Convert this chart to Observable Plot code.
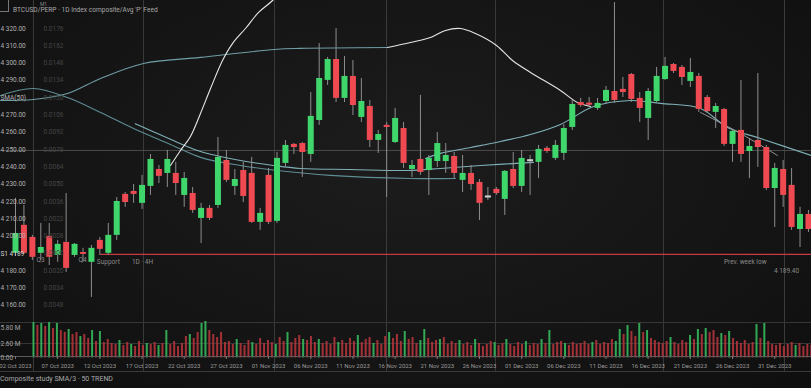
<!DOCTYPE html>
<html><head><meta charset="utf-8">
<script src="https://cdn.jsdelivr.net/npm/d3@7"></script>
<script src="https://cdn.jsdelivr.net/npm/@observablehq/plot@0.6"></script>
<style>
html,body{margin:0;padding:0;background:#0d0d0d;}
#wrap{position:relative;width:811px;height:388px;overflow:hidden;
 background:radial-gradient(ellipse 75% 85% at 50% 42%, #1c1c1c 0%, #151515 55%, #0e0e0e 100%);
 font-family:Roboto,"DejaVu Sans",sans-serif;}
#price{position:absolute;left:0;top:0;}
#vol{position:absolute;left:0;top:312px;}
.t{position:absolute;color:#a9a9a9;font-size:7px;white-space:nowrap;line-height:8px;}
#box{position:absolute;left:0;top:0;width:8px;height:11px;border:1px solid #777;border-left:none;border-top:none;}
#sep{position:absolute;left:0;top:371px;width:811px;height:1px;background:#3a3a3a;}
</style></head><body>
<div id="wrap">
  <div id="price"></div>
  <div id="vol"></div>
  <div id="box"></div>
  <div class="t" style="left:40px;top:0px;font-size:5px;color:#888">M1</div>
  <div class="t" id="title" style="left:13px;top:6px;font-size:6.6px;"></div>
  <div id="sep"></div>
  <div class="t" id="caption" style="left:0px;top:375px;"></div>
</div>
<script>
const titleText = "BTCUSD/PERP · 1D  Index composite/Avg 'P' Feed";
const captionText = "Composite study SMA/3 · 50 TREND";

// ---- candles (one per day) ----
const opens = [4190.0,4206.2,4199.2,4190.0,4199.8,4188.8,4196.3,4188.8,4190.5,4184.8,
 4197.5,4190.0,4200.4,4224.1,4225.8,4218.9,4228.7,4238.5,4236.2,4236.2,
 4223.5,4224.6,4210.2,4216.0,4217.7,4243.7,4228.7,4237.9,4236.2,4207.9,
 4235.1,4208.5,4242.0,4253.0,4253.5,4247.2,4266.8,4290.0,4302.1,4279.6,
 4292.3,4268.6,4274.9,4255.3,4264.0,4254.1,4262.2,4238.5,4244.3,4237.9,
 4243.1,4243.1,4246.0,4232.2,4236.2,4231.0,4222.3,4227.0,4221.2,4238.5,
 4228.7,4243.7,4242.6,4250.7,4244.9,4247.8,4262.8,4277.2,4276.7,4273.8,
 4277.8,4283.6,4284.8,4293.4,4279.6,4268.0,4277.8,4290.5,4299.2,4297.5,
 4289.4,4292.3,4280.1,4271.5,4273.2,4253.0,4261.1,4248.9,4255.3,4251.2,
 4227.5,4238.5,4229.3,4203.8,4212.5];
const highs = [4221.8,4217.7,4200.4,4207.3,4207.3,4197.5,4224.6,4195.7,4192.9,4194.6,
 4199.2,4207.3,4222.3,4225.2,4229.8,4235.1,4247.2,4240.8,4249.5,4242.6,
 4236.8,4228.1,4218.9,4217.7,4257.0,4249.5,4238.5,4242.6,4245.5,4216.0,
 4239.1,4248.3,4255.3,4253.5,4254.1,4283.0,4311.3,4303.3,4320.0,4303.8,
 4301.5,4291.1,4278.4,4261.1,4265.7,4273.8,4265.7,4243.7,4281.3,4246.6,
 4259.9,4253.5,4248.3,4246.6,4240.8,4232.7,4228.1,4228.1,4237.9,4248.3,
 4249.5,4246.6,4252.4,4251.8,4255.3,4264.5,4278.4,4279.6,4280.1,4279.6,
 4286.5,4335.0,4291.7,4294.0,4283.0,4285.3,4297.5,4303.3,4299.8,4298.6,
 4302.7,4294.0,4281.3,4276.7,4273.8,4261.1,4290.0,4256.4,4294.0,4252.4,
 4242.0,4243.7,4239.1,4216.6,4214.8];
const lows = [4188.2,4189.4,4185.9,4185.9,4183.0,4184.8,4179.0,4187.7,4184.8,4164.5,
 4188.8,4188.8,4197.5,4216.6,4218.9,4215.4,4223.5,4230.4,4228.1,4223.5,
 4216.6,4213.1,4195.7,4209.0,4216.0,4231.0,4223.5,4219.4,4207.3,4203.3,
 4206.7,4207.3,4239.7,4247.2,4233.9,4242.6,4264.0,4287.1,4277.2,4277.2,
 4269.7,4265.7,4251.2,4247.8,4222.3,4253.5,4239.1,4233.9,4235.1,4223.5,
 4239.7,4236.2,4233.3,4225.2,4226.4,4209.0,4220.6,4223.5,4211.9,4227.5,
 4225.2,4223.5,4233.3,4247.8,4243.7,4243.7,4261.1,4274.4,4274.9,4272.6,
 4276.7,4276.7,4280.1,4277.2,4265.7,4255.3,4277.2,4290.0,4294.0,4287.1,
 4285.9,4271.5,4270.9,4262.2,4251.8,4242.6,4242.6,4233.3,4239.7,4226.4,
 4205.0,4216.6,4203.3,4193.4,4202.1];
const closes = [4201.5,4190.0,4187.7,4193.4,4187.7,4195.2,4181.3,4195.2,4189.4,4192.9,
 4192.3,4200.4,4220.0,4219.4,4224.1,4229.3,4244.3,4234.5,4244.3,4230.4,
 4233.3,4214.8,4216.0,4210.2,4245.5,4232.2,4232.7,4222.9,4207.9,4213.1,
 4207.9,4244.9,4252.4,4251.2,4248.3,4269.2,4291.1,4302.1,4279.6,4292.3,
 4275.5,4277.8,4255.3,4258.7,4262.8,4268.0,4242.0,4240.8,4236.8,4244.9,
 4253.5,4246.6,4236.2,4236.2,4229.8,4218.9,4222.9,4224.6,4237.4,4228.7,
 4244.9,4243.4,4250.1,4248.9,4252.4,4262.2,4276.1,4275.5,4275.8,4276.7,
 4284.2,4278.4,4283.0,4279.0,4273.8,4283.6,4292.3,4298.1,4295.2,4291.7,
 4294.6,4273.2,4272.0,4274.9,4253.0,4260.5,4247.2,4251.8,4251.2,4227.5,
 4239.1,4223.5,4205.0,4212.5,4203.8];

// ---- moving-average lines: [candle index, price] ----
const maLongTeal = [[-1.78,4278.4],[2.13,4279.0],[6.16,4282.4],[10.08,4291.1],[15.17,4299.8],[21.93,4303.3],[30.70,4307.9],[33.78,4308.5],[44.10,4309.0]];
const maLongWhite = [[44.10,4309.0],[46.82,4311.9],[49.19,4314.8],[50.97,4318.9],[52.75,4320.0],[54.53,4317.1],[57.02,4310.2],[58.92,4301.5],[61.05,4294.6],[64.60,4284.2],[66.62,4277.2],[68.16,4274.9]];
const maMidA = [[-1.78,4281.3],[2.13,4285.3],[6.16,4280.1],[10.08,4271.5],[13.99,4262.2],[18.37,4253.0],[21.93,4245.5],[26.67,4240.8],[31.06,4237.9],[37.34,4235.1],[46.82,4233.3],[52.16,4233.3]];
const maMidB = [[14.20,4265.0],[16.00,4261.1],[18.97,4254.7],[21.93,4248.9],[26.67,4243.7],[30.58,4240.8],[33.78,4239.1],[39.71,4238.5],[46.47,4237.9],[50.38,4239.1],[55.12,4240.8],[61.40,4242.6]];
const maFast = [[48.60,4244.9],[50.38,4247.8],[53.94,4251.2],[57.49,4254.7],[61.05,4258.7],[64.60,4264.5],[68.52,4274.9],[72.90,4278.4],[76.46,4276.7],[81.20,4273.8],[84.40,4262.8],[88.31,4256.4],[94.36,4246.6]];
const maShort = [[81.20,4271.5],[85.94,4259.3],[90.33,4246.6]];
const maSpike = [[18.37,4240.8],[19.56,4249.5],[20.74,4257.6],[21.93,4270.9],[23.12,4285.3],[24.54,4301.5],[25.72,4311.3],[27.26,4320.0],[28.81,4329.3],[30.47,4336.2],[31.89,4344.3]];

// ---- reference levels ----
const gridDays = [2.13,15.17,30.70,43.98,56.90,76.81,91.16];
const midLevel = 4249.5;
const supportLevel = 4189.4;
const supportFrom = 10.08;

// ---- y axis ticks (rows at 4280 and 4190 carry the SMA and S1 tags instead) ----
const yTickValues = [4320,4310,4300,4290,4270,4260,4250,4240,4230,4220,4210,4200,4180,4170,4160];
const yTickLabels = ["4 320.00","4 310.00","4 300.00","4 290.00","4 270.00","4 260.00","4 250.00","4 240.00","4 230.00","4 220.00","4 210.00","4 200.00","4 180.00","4 170.00","4 160.00"];
const yPctValues = [4320,4310,4300,4290,4280,4270,4260,4250,4240,4230,4220,4210,4200,4190,4180,4170,4160];
const yPctLabels = ["0.0176","0.0162","0.0148","0.0134","0.0120","0.0106","0.0092","0.0078","0.0064","0.0050","0.0036","0.0022","0.0008","0.0006","0.0020","0.0034","0.0048"];

// ---- x axis labels (every 5 days) ----
const xLabelDays = [0,5,10,15,20,25,30,35,40,45,50,55,60,65,70,75,80,85,90];
const xLabels = ["02 Oct 2023","07 Oct 2023","12 Oct 2023","17 Oct 2023","22 Oct 2023","27 Oct 2023","01 Nov 2023","06 Nov 2023","11 Nov 2023","16 Nov 2023","21 Nov 2023","26 Nov 2023","01 Dec 2023","06 Dec 2023","11 Dec 2023","16 Dec 2023","21 Dec 2023","26 Dec 2023","31 Dec 2023"];

// ---- volume (sub-period bars) ----
const volumes = [34,31,33,30,34,28,33,26,24,27, 22,24,20,22,18,26,15,25,14,17,
 13,12,16,11,14,12,10,15,11,13, 12,14,11,13,26,12,15,10,13,20,
 22,18,24,33,35,26,22,19,24,14, 15,12,17,13,11,16,14,12,18,13,
 16,14,12,19,15,24,14,18,21,17, 16,20,14,17,13,15,12,19,14,16,
 13,18,15,21,14,17,19,13,16,12, 20,24,18,22,15,25,17,19,13,16,
 27,18,14,16,17,19,12,15,13,16, 12,14,11,17,13,10,12,15,14,11,
 13,17,12,10,14,12,15,11,13,12, 17,13,26,12,14,15,13,11,14,12,
 13,15,12,14,16,12,14,13,17,15, 27,22,31,25,20,33,24,26,18,16,
 14,13,15,19,14,12,16,14,21,17, 27,22,28,24,26,19,23,21,25,18,
 15,13,16,12,14,32,18,33,15,12, 11,13,10,12,14,11,13,10,12,11];
const volSides = ("grgrgrgrrg"+"rrgrrgrgrr"+"rrgrrgrrrg"+"rrgrgrrrrr"+"grrggrrrrr"+"rrgrrrgrrr"+"rrgrrgrrrg"+"rrrgrrrrgr"+"rrrgrrrgrr"+"rgrrrgrrrg"+
 "grrrgrrrrg"+"rrrgrrrrgr"+"rgrrrrgrrr"+"grgrrrgrrr"+"rrrgrrrrrg"+"grgrrgrgrr"+"rrrgrrrrgr"+"grgrrrgrgr"+"rrrrrgrgrr"+"rrrrrgrrrr").split("");
const volAxisLabels = [[29,"5.80 M"],[13,"2.60 M"],[-1,"0.00"]];

const GREEN = "#3fd66b", RED = "#ef4a52", NEUTRAL = "#d0d0d0";
const XDOM = [-1.778, 94.36];

const candles = opens.map((o,i)=>{
  const c = closes[i];
  const diff = c - o;
  const mid = (o+c)/2;
  const lo = Math.abs(diff) < 1.0 ? mid-0.6 : Math.min(o,c);
  const hi = Math.abs(diff) < 1.0 ? mid+0.6 : Math.max(o,c);
  const col = Math.abs(diff) < 0.7 ? NEUTRAL : (diff > 0 ? GREEN : RED);
  return {k:i, o, h:highs[i], l:lows[i], c, lo, hi, col};
});
const toPts = arr => arr.map(([k,p])=>({k,p}));

const font = "Roboto, 'DejaVu Sans', sans-serif";
const price = Plot.plot({
  width: 811, height: 312, margin: 0,
  style: {background: "transparent", fontFamily: font, overflow: "visible"},
  x: {domain: XDOM, axis: null},
  y: {domain: [4155.8, 4336.2], axis: null},
  marks: [
    Plot.ruleX(gridDays, {stroke: "#3b3b3b", strokeWidth: 1}),
    Plot.ruleY([midLevel], {stroke: "#4c4c4c", strokeWidth: 1}),
    Plot.ruleY([{y: supportLevel, x1: supportFrom, x2: XDOM[1]}], {y: "y", x1: "x1", x2: "x2", stroke: "#c23c42", strokeWidth: 1.3}),
    Plot.line(toPts(maMidA), {x: "k", y: "p", stroke: "#5f8d95", strokeWidth: 1.1, curve: "catmull-rom"}),
    Plot.line(toPts(maMidB), {x: "k", y: "p", stroke: "#7fb0b7", strokeWidth: 1.1, curve: "catmull-rom"}),
    Plot.line(toPts(maLongTeal), {x: "k", y: "p", stroke: "#6f9ea6", strokeWidth: 1.1, curve: "catmull-rom"}),
    Plot.line(toPts(maLongWhite), {x: "k", y: "p", stroke: "#e4e4e4", strokeWidth: 1.1, curve: "catmull-rom"}),
    Plot.line(toPts(maFast), {x: "k", y: "p", stroke: "#7fb0b7", strokeWidth: 1.1, curve: "catmull-rom"}),
    Plot.line(toPts(maShort), {x: "k", y: "p", stroke: "#9a9a9a", strokeWidth: 1, curve: "catmull-rom"}),
    Plot.line(toPts(maSpike), {x: "k", y: "p", stroke: "#e8e8e8", strokeWidth: 1.1, curve: "catmull-rom", clip: true}),
    Plot.ruleX(candles, {x: "k", y1: "l", y2: "h", stroke: "#8e8e8e", strokeWidth: 1, clip: true}),
    Plot.ruleX(candles, {x: "k", y1: "lo", y2: "hi", stroke: "col", strokeWidth: 6}),
    Plot.text(yTickValues, {y: d=>d, text: (d,i)=>yTickLabels[i], frameAnchor: "left", textAnchor: "start", dx: 0, fill: "#b0b0b0", fontSize: 6.5}),
    Plot.text(yPctValues, {y: d=>d, text: (d,i)=>yPctLabels[i], frameAnchor: "left", textAnchor: "start", dx: 43, fill: "#464646", fontSize: 6.5}),
    Plot.text([{y: 4279.6, t: "SMA(50)"}], {y: "y", text: "t", frameAnchor: "left", textAnchor: "start", fill: "#b8b8b8", fontSize: 6.5}),
    Plot.text([{y: supportLevel, t: "S1 4189"}], {y: "y", text: "t", frameAnchor: "left", textAnchor: "start", fill: "#d4d4d4", fontSize: 6.5}),
    Plot.text([
      {k: 2.96, y: 4186.0, t: "Q3"}, {k: 7.94, y: 4186.0, t: "Q4"},
      {k: 11.0, y: 4184.8, t: "Support"}, {k: 15.05, y: 4184.8, t: "1D · 4H"},
      {k: 86.5, y: 4184.8, t: "Prev. week low"}, {k: 91.4, y: 4180.1, t: "4 189.40"}
    ], {x: "k", y: "y", text: "t", fill: "#8a8a8a", fontSize: 6.5})
  ]
});
document.getElementById("price").appendChild(price);

const volData = volumes.map((v,j)=>({t: 2.13 + j*0.4633, v, side: volSides[j]}));
const vol = Plot.plot({
  width: 811, height: 60, marginTop: 4, marginBottom: 16, marginLeft: 0, marginRight: 0,
  style: {background: "transparent", fontFamily: font, overflow: "visible"},
  x: {domain: XDOM, axis: null},
  y: {domain: [0, 40], axis: null},
  marks: [
    Plot.ruleX(gridDays, {y1: -15, y2: 44, stroke: "#3b3b3b", strokeWidth: 1}),
    Plot.ruleY([34, 13], {stroke: "#363636", strokeWidth: 1}),
    Plot.ruleX(volData, {x: "t", y1: -1.5, y2: "v", stroke: d=>d.side==="g" ? "#36b95d" : "#b3343c", strokeWidth: 2, strokeOpacity: 0.9}),
    Plot.ruleY([0], {stroke: "#5c5c5c", strokeWidth: 1}),
    Plot.ruleX(xLabelDays, {y1: 0, y2: -3, stroke: "#777"}),
    Plot.text(xLabelDays, {x: d=>d, y: -10, text: (d,i)=>xLabels[i], fill: "#9a9a9a", fontSize: 6}),
    Plot.text(volAxisLabels, {y: d=>d[0], text: d=>d[1], frameAnchor: "left", textAnchor: "start", fill: "#a4a4a4", fontSize: 6.5})
  ]
});
document.getElementById("vol").appendChild(vol);
document.getElementById("title").textContent = titleText;
document.getElementById("caption").textContent = captionText;
</script>
</body></html>
